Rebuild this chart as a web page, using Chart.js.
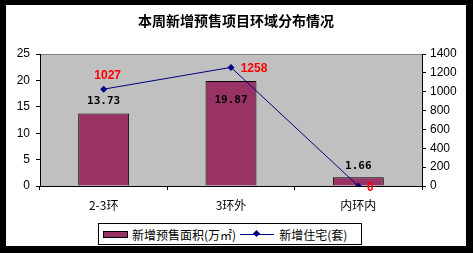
<!DOCTYPE html>
<html>
<head>
<meta charset="utf-8">
<script src="https://cdn.jsdelivr.net/npm/chart.js@4.4.1/dist/chart.umd.min.js"></script>
<style>
  html, body { margin: 0; padding: 0; background: #000; }
  #frame { position: absolute; left: 6px; top: 5px; width: 460px; height: 241px; background: #fff; }
  #chart { position: absolute; left: 0; top: 0; }
  #legend {
    position: absolute; left: 92px; top: 218px; width: 262px; height: 20px;
    border: 1px solid #000; background: #fff;
    font: 12px "Noto Sans CJK SC", sans-serif; color: #000;
    display: flex; align-items: center; white-space: nowrap;
  }
  .sw-bar { display: inline-block; width: 23px; height: 5px; background: #993366; border: 1px solid #000; margin: 0 4px 0 4px; }
  .sw-line { display: inline-block; position: relative; width: 34px; height: 1px; background: #000080; margin: 0 5px 0 4px; }
  .sw-line i { position: absolute; left: 14px; top: -3px; width: 5px; height: 5px; background: #000080; transform: rotate(45deg); }
</style>
</head>
<body>
<div id="frame">
  <canvas id="chart" width="460" height="241"></canvas>
  <div id="legend">
    <span class="sw-bar"></span><span>新增预售面积(万㎡)</span>
    <span class="sw-line"><i></i></span><span>新增住宅(套)</span>
  </div>
</div>
<script>
// ========== データ ==========
const TITLE = "本周新增预售项目环域分布情况";
const categories = ["2-3环", "3环外", "内环内"];
const areaValues = [13.73, 19.87, 1.66];     // 新增预售面积(万㎡)
const houseValues = [1027, 1258, 0];          // 新增住宅(套)
const leftTicks = [0, 5, 10, 15, 20, 25];
const rightTicks = [0, 200, 400, 600, 800, 1000, 1200, 1400];

// ラベル位置のずらし (px)
const barLabelOffset = [[0, -12], [0, 19], [0, -11]];
const lineLabelOffset = [[4, -13], [23, 1], [12, 2]];

// ========== プラグイン ==========
const plotBg = {
  id: "plotBg",
  beforeDraw(chart) {
    const { ctx, chartArea: a } = chart;
    ctx.save();
    ctx.fillStyle = "#c0c0c0";
    ctx.fillRect(a.left, a.top, a.right - a.left, a.bottom - a.top);
    ctx.strokeStyle = "#808080";
    ctx.lineWidth = 1;
    ctx.beginPath();
    ctx.moveTo(a.left, a.top + 0.5);
    ctx.lineTo(a.right, a.top + 0.5);
    ctx.stroke();
    // タイトル
    ctx.fillStyle = "#000";
    ctx.font = "bold 14px 'Noto Sans CJK SC', sans-serif";
    ctx.textAlign = "center";
    ctx.textBaseline = "middle";
    ctx.fillText(TITLE, chart.width / 2, 15.5);
    ctx.restore();
  }
};

const valueLabels = {
  id: "valueLabels",
  afterDatasetsDraw(chart) {
    const ctx = chart.ctx;
    ctx.save();
    ctx.textAlign = "center";
    ctx.textBaseline = "middle";
    chart.getDatasetMeta(0).data.forEach((bar, i) => {
      ctx.font = "bold 11px 'DejaVu Sans Mono', monospace";
      ctx.fillStyle = "#000";
      ctx.fillText(areaValues[i].toFixed(2), bar.x + barLabelOffset[i][0], bar.y + barLabelOffset[i][1]);
    });
    chart.getDatasetMeta(1).data.forEach((pt, i) => {
      ctx.font = "bold 12px 'Liberation Sans', Arial, sans-serif";
      ctx.fillStyle = "#ff0000";
      ctx.fillText(String(houseValues[i]), pt.x + lineLabelOffset[i][0], pt.y + lineLabelOffset[i][1]);
    });
    ctx.restore();
  }
};

// ========== 描画 ==========
const tickFont = { family: "'Liberation Sans', Arial, sans-serif", size: 12 };

new Chart(document.getElementById("chart").getContext("2d"), {
  data: {
    labels: categories,
    datasets: [
      {
        type: "bar",
        label: "新增预售面积(万㎡)",
        data: areaValues,
        yAxisID: "y",
        backgroundColor: "#993366",
        borderColor: "#000",
        borderWidth: 1,
        barPercentage: 0.4,
        categoryPercentage: 1,
        order: 2
      },
      {
        type: "line",
        label: "新增住宅(套)",
        data: houseValues,
        yAxisID: "y2",
        borderColor: "#000080",
        backgroundColor: "#000080",
        borderWidth: 1,
        pointStyle: "rectRot",
        pointRadius: 3.5,
        pointBorderWidth: 0,
        tension: 0,
        order: 1
      }
    ]
  },
  options: {
    responsive: false,
    animation: false,
    layout: { padding: { top: 49, left: 0, right: 0, bottom: 0 } },
    plugins: { legend: { display: false }, title: { display: false }, tooltip: { enabled: false } },
    scales: {
      x: {
        offset: true,
        grid: { offset: true, drawOnChartArea: false, color: "#000", tickLength: 4 },
        border: { color: "#000", width: 1 },
        ticks: { color: "#000", font: { family: "'Noto Sans CJK SC', sans-serif", size: 12 }, padding: 8 },
        afterFit(s) { s.height = 60; }
      },
      y: {
        position: "left",
        min: 0, max: 25,
        afterBuildTicks(s) { s.ticks = leftTicks.map(v => ({ value: v })); },
        grid: { drawOnChartArea: false, color: "#000", tickLength: 4 },
        border: { color: "#000", width: 1 },
        ticks: { color: "#000", font: tickFont, padding: 6, callback: v => String(v) },
        afterFit(s) { s.width = 34; }
      },
      y2: {
        position: "right",
        min: 0, max: 1400,
        afterBuildTicks(s) { s.ticks = rightTicks.map(v => ({ value: v })); },
        grid: { drawOnChartArea: false, color: "#000", tickLength: 4 },
        border: { color: "#000", width: 1 },
        ticks: { color: "#000", font: tickFont, padding: 4, callback: v => String(v) },
        afterFit(s) { s.width = 44; }
      }
    }
  },
  plugins: [plotBg, valueLabels]
});
</script>
</body>
</html>
